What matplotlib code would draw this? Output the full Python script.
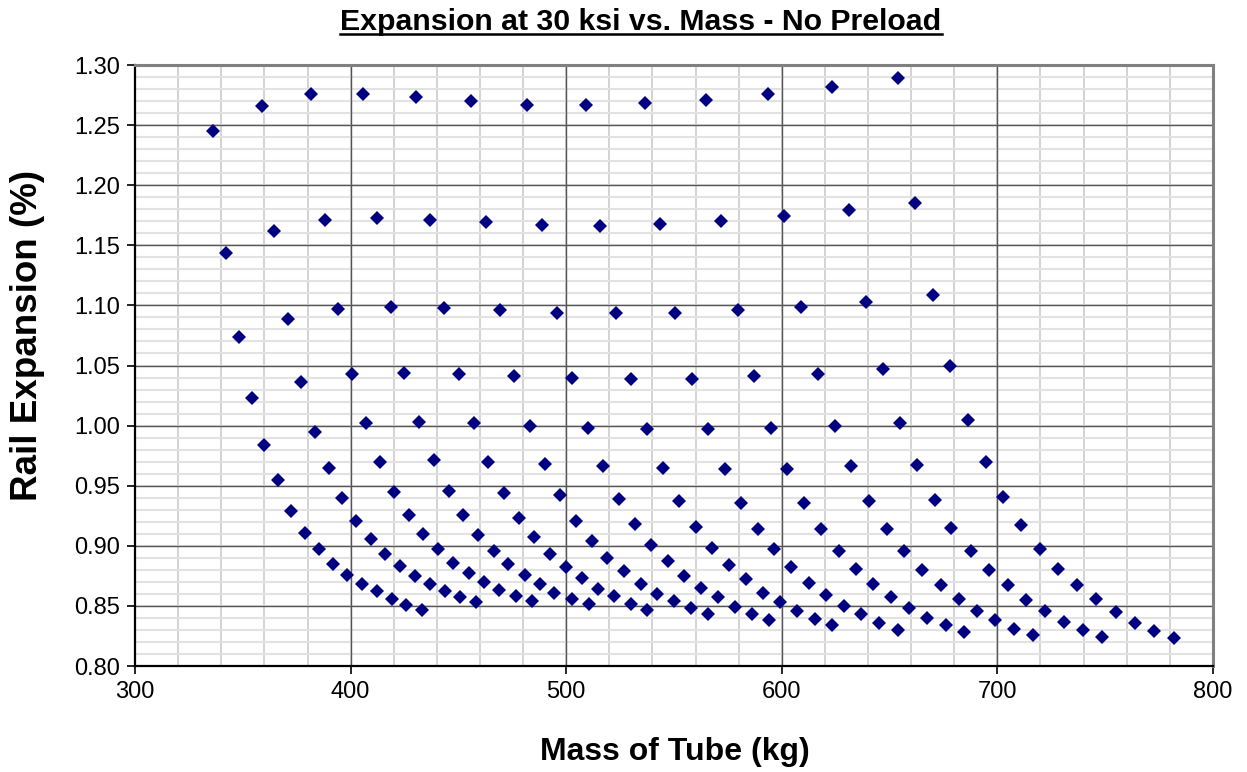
import matplotlib
matplotlib.use("Agg")
import matplotlib.pyplot as plt
import numpy as np
from matplotlib.lines import Line2D
from matplotlib.ticker import MultipleLocator, FormatStrFormatter

plt.rcParams['font.family'] = ['Liberation Sans', 'DejaVu Sans']

# mass of tube (kg), one list per family of points
mass_rows = [
    [336.2, 358.8, 381.8, 405.8, 430.4, 455.8, 481.9, 509.0, 536.4, 564.8, 593.7, 623.4, 653.9],
    [342.1, 364.5, 388.2, 412.0, 436.9, 462.6, 488.9, 515.8, 543.5, 572.0, 601.2, 631.3, 662.0],
    [348.1, 370.9, 394.3, 418.6, 443.5, 469.2, 495.6, 522.9, 550.6, 579.6, 609.1, 639.2, 670.0],
    [354.1, 376.9, 400.7, 424.9, 450.1, 475.9, 502.8, 530.2, 558.3, 587.1, 616.6, 646.9, 677.8],
    [360.0, 383.3, 407.0, 431.8, 457.2, 483.1, 510.1, 537.4, 565.9, 594.8, 624.5, 654.9, 686.2],
    [366.4, 389.8, 413.7, 438.5, 463.8, 490.0, 517.2, 545.0, 573.5, 602.4, 632.3, 662.9, 694.6],
    [372.5, 396.1, 420.3, 445.4, 471.0, 497.3, 524.4, 552.1, 580.9, 610.3, 640.4, 671.2, 702.8],
    [379.0, 402.7, 426.9, 452.2, 478.0, 504.6, 532.0, 560.0, 588.8, 618.3, 648.6, 678.5, 711.1],
    [385.4, 409.3, 433.6, 458.9, 485.0, 511.9, 539.4, 567.6, 596.6, 626.4, 656.6, 687.7, 719.6],
    [391.9, 416.0, 440.7, 466.4, 492.4, 519.1, 547.0, 575.3, 604.4, 634.2, 664.9, 696.3, 728.3],
    [398.5, 422.8, 447.7, 473.2, 499.7, 526.6, 554.6, 583.4, 612.6, 642.5, 673.7, 704.8, 736.9],
    [405.5, 429.8, 454.7, 481.0, 507.4, 534.8, 562.3, 591.2, 620.5, 650.8, 682.1, 713.5, 745.7],
    [412.0, 436.7, 461.9, 488.0, 514.7, 541.9, 570.3, 599.3, 628.7, 659.0, 690.6, 722.1, 754.8],
    [419.3, 443.9, 468.6, 494.5, 522.3, 549.8, 578.3, 607.2, 636.9, 667.5, 698.9, 730.8, 763.7],
    [425.8, 450.8, 476.5, 502.8, 529.9, 557.7, 586.1, 615.2, 645.2, 676.0, 707.6, 739.7, 772.6],
    [433.0, 458.2, 484.0, 510.5, 537.4, 565.7, 594.2, 623.4, 653.9, 684.7, 716.5, 748.7, 781.8],
]

# rail expansion (%)
expansion_rows = [
    [1.245, 1.266, 1.276, 1.276, 1.273, 1.270, 1.267, 1.267, 1.268, 1.271, 1.276, 1.282, 1.289],
    [1.144, 1.162, 1.171, 1.173, 1.171, 1.169, 1.167, 1.166, 1.168, 1.170, 1.174, 1.179, 1.185],
    [1.074, 1.089, 1.097, 1.099, 1.098, 1.096, 1.094, 1.094, 1.094, 1.096, 1.099, 1.103, 1.109],
    [1.023, 1.036, 1.043, 1.044, 1.043, 1.041, 1.040, 1.039, 1.039, 1.041, 1.043, 1.047, 1.050],
    [0.984, 0.995, 1.002, 1.003, 1.002, 1.000, 0.998, 0.997, 0.997, 0.998, 1.000, 1.002, 1.005],
    [0.955, 0.965, 0.970, 0.971, 0.970, 0.968, 0.966, 0.965, 0.964, 0.964, 0.966, 0.967, 0.970],
    [0.929, 0.940, 0.945, 0.946, 0.944, 0.942, 0.939, 0.937, 0.936, 0.936, 0.937, 0.938, 0.941],
    [0.911, 0.921, 0.926, 0.926, 0.923, 0.921, 0.918, 0.916, 0.914, 0.914, 0.914, 0.915, 0.917],
    [0.897, 0.906, 0.910, 0.909, 0.907, 0.904, 0.901, 0.898, 0.897, 0.896, 0.896, 0.896, 0.897],
    [0.885, 0.893, 0.897, 0.896, 0.893, 0.890, 0.887, 0.884, 0.882, 0.881, 0.880, 0.880, 0.881],
    [0.876, 0.883, 0.886, 0.885, 0.882, 0.879, 0.875, 0.872, 0.869, 0.868, 0.867, 0.867, 0.867],
    [0.868, 0.875, 0.877, 0.876, 0.873, 0.868, 0.865, 0.861, 0.859, 0.857, 0.856, 0.855, 0.856],
    [0.862, 0.868, 0.870, 0.868, 0.864, 0.860, 0.857, 0.853, 0.850, 0.848, 0.846, 0.846, 0.845],
    [0.856, 0.862, 0.863, 0.861, 0.858, 0.854, 0.849, 0.846, 0.843, 0.840, 0.838, 0.837, 0.836],
    [0.851, 0.857, 0.858, 0.856, 0.852, 0.848, 0.843, 0.839, 0.836, 0.834, 0.831, 0.830, 0.829],
    [0.847, 0.853, 0.854, 0.852, 0.847, 0.843, 0.838, 0.834, 0.830, 0.828, 0.826, 0.824, 0.823],
]

fig = plt.figure(figsize=(12.47, 7.72), dpi=100)
ax = fig.add_axes([0.1083, 0.1373, 0.8644, 0.7785])

for xs, ys in zip(mass_rows, expansion_rows):
    ax.plot(xs, ys, linestyle='none', marker='D', markersize=6.8,
            color='#000080', markeredgewidth=0, zorder=3)

ax.set_xlim(300, 800)
ax.set_ylim(0.80, 1.30)
ax.xaxis.set_major_locator(MultipleLocator(100))
ax.yaxis.set_major_locator(MultipleLocator(0.05))
ax.yaxis.set_major_formatter(FormatStrFormatter('%.2f'))

# excel style grid: light minor lines first, dark major lines on top
ax.vlines(np.arange(320, 800, 20), 0.80, 1.30, color='#cccccc', linewidth=1.2, zorder=0.5)
ax.hlines(np.arange(0.81, 1.30, 0.01), 300, 800, color='#e2e2e2', linewidth=1.5, zorder=0.6)
ax.vlines(np.arange(400, 800, 100), 0.80, 1.30, color='#555555', linewidth=1.0, zorder=0.8)
ax.hlines(np.arange(0.85, 1.30, 0.05), 300, 800, color='#555555', linewidth=1.0, zorder=0.8)

ax.tick_params(which='major', direction='out', length=6, width=1.2,
               labelsize=17, pad=5, colors='black')

for side in ['left', 'bottom']:
    ax.spines[side].set_color('black')
    ax.spines[side].set_linewidth(1.6)
for side in ['top', 'right']:
    ax.spines[side].set_color('#808080')
    ax.spines[side].set_linewidth(2.2)

ax.set_xlabel('Mass of Tube (kg)', fontsize=23, fontweight='bold', va='center')
ax.set_ylabel('Rail Expansion (%)', fontsize=26.5, fontweight='bold', va='center')
ax.xaxis.set_label_coords(0.501, -0.143)
ax.yaxis.set_label_coords(-0.1, 0.55)

title = fig.text(0.514, 0.972, 'Expansion at 30 ksi vs. Mass - No Preload',
                 ha='center', va='center', fontsize=21.8, fontweight='bold')

# underline the title
fig.canvas.draw()
bb = title.get_window_extent().transformed(fig.transFigure.inverted())
fig.add_artist(Line2D([bb.x0, bb.x1], [bb.y0 + 0.002, bb.y0 + 0.002],
                      transform=fig.transFigure, color='black', linewidth=1.8))

fig.savefig('out.png', dpi=100)
